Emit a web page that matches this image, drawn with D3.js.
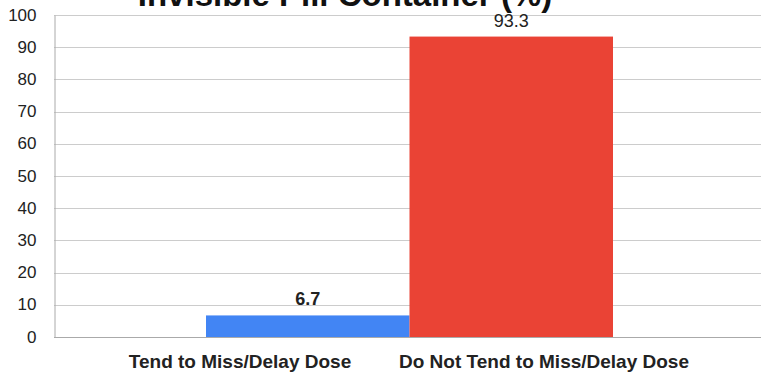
<!DOCTYPE html>
<html>
<head>
<meta charset="utf-8">
<script src="https://cdn.jsdelivr.net/npm/d3@7"></script>
<style>
  html, body { margin: 0; padding: 0; background: #fff; }
  svg { display: block; }
  text { font-family: Arial, "Liberation Sans", sans-serif; }
</style>
</head>
<body>
<svg id="chart" width="761" height="373"></svg>
<script>
// Share of respondents by dosing behaviour (%)
const categories = ["Tend to Miss/Delay Dose", "Do Not Tend to Miss/Delay Dose"];
const values = [6.7, 93.3];
const colors = ["#4285F4", "#EA4335"];
const yTicks = [0, 10, 20, 30, 40, 50, 60, 70, 80, 90, 100];
const title = "Invisible Pill Container (%)";

const svg = d3.select("#chart");
const plot = { left: 54, right: 761, top: 15, bottom: 337 };

const y = d3.scaleLinear().domain([0, 100]).range([plot.bottom, plot.top]);

// Bars sit side by side in the middle of the plot
const xBar = d3.scaleBand().domain(categories).range([206, 613]).paddingInner(0).paddingOuter(0);
// Category labels below the axis
const xLab = d3.scaleBand().domain(categories).range([88, 696]);

// Gridlines
svg.append("g")
  .selectAll("line")
  .data(yTicks.filter(d => d > 0))
  .join("line")
  .attr("x1", plot.left).attr("x2", plot.right)
  .attr("y1", d => Math.round(y(d)) + 0.5).attr("y2", d => Math.round(y(d)) + 0.5)
  .attr("stroke", "#cccccc").attr("stroke-width", 1);

// Y axis
const yAxis = d3.axisLeft(y).tickValues(yTicks).tickSize(0).tickPadding(18);
const gy = svg.append("g").attr("transform", `translate(${plot.left + 0.5},0)`).call(yAxis);
gy.select(".domain").attr("stroke", "#aaaaaa");
gy.selectAll("text")
  .attr("font-size", 17)
  .attr("fill", "#222222")
  .attr("dy", "0.3em");

// Bars
svg.append("g")
  .selectAll("rect")
  .data(values)
  .join("rect")
  .attr("x", (d, i) => xBar(categories[i]))
  .attr("width", xBar.bandwidth())
  .attr("y", d => y(d))
  .attr("height", d => y(0) - y(d))
  .attr("fill", (d, i) => colors[i]);

// Baseline
svg.append("line")
  .attr("x1", plot.left).attr("x2", plot.right)
  .attr("y1", plot.bottom + 0.5).attr("y2", plot.bottom + 0.5)
  .attr("stroke", "#aaaaaa");

// Value labels
svg.append("g")
  .selectAll("text")
  .data(values)
  .join("text")
  .attr("x", (d, i) => xBar(categories[i]) + xBar.bandwidth() / 2)
  .attr("y", d => y(d) - 10)
  .attr("text-anchor", "middle")
  .attr("font-size", 18)
  .attr("font-weight", (d, i) => i === 0 ? "bold" : "normal")
  .attr("fill", "#222222")
  .text(d => d.toFixed(1));

// Category labels
svg.append("g")
  .selectAll("text")
  .data(categories)
  .join("text")
  .attr("x", d => xLab(d) + xLab.bandwidth() / 2)
  .attr("y", 368)
  .attr("text-anchor", "middle")
  .attr("font-size", 19)
  .attr("font-weight", "bold")
  .attr("fill", "#222222")
  .text(d => d);

// Title (runs past the top edge)
svg.append("text")
  .attr("x", 345)
  .attr("y", 6)
  .attr("text-anchor", "middle")
  .attr("font-size", 33)
  .attr("font-weight", "bold")
  .attr("fill", "#111111")
  .text(title);
</script>
</body>
</html>
